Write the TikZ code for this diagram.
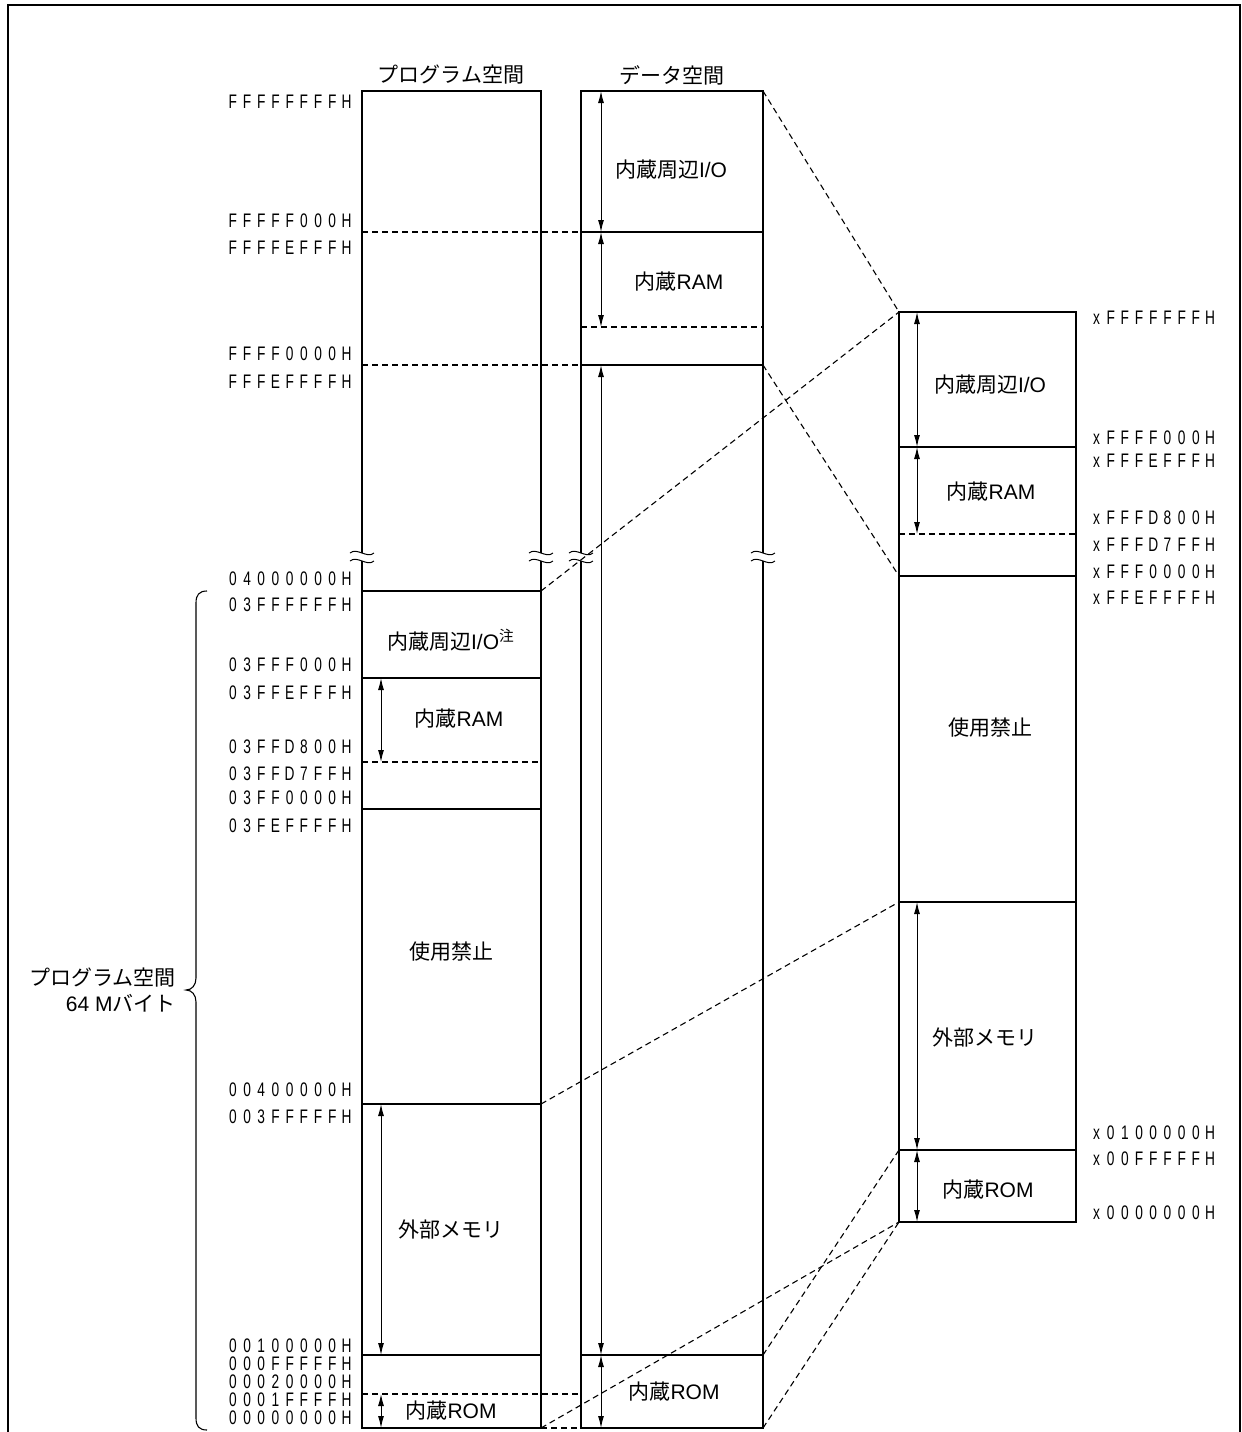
\documentclass[tikz,border=0pt]{standalone}
\usepackage{fontspec}
\setmainfont{Liberation Sans}
\newfontfamily\jpf{Noto Sans CJK JP}
\newfontfamily\addrf[FakeStretch=0.7]{Liberation Sans}
\usetikzlibrary{arrows.meta}
\newcommand\J[1]{{\jpf #1}}
\makeatletter
\newcommand\addrtxt[1]{\addr@loop#1\relax}
\def\addr@loop#1{\ifx#1\relax\else\makebox[7.1pt]{#1}\expandafter\addr@loop\fi}
\makeatother
\begin{document}
\begin{tikzpicture}[x=0.5pt,y=-0.5pt,
  colbox/.style={line width=1.4pt},
  thinl/.style={line width=0.55pt},
  dashl/.style={line width=0.55pt, dash pattern=on 3pt off 2pt},
  dimarrow/.style={line width=0.5pt, {Latex[length=6pt,width=3pt]}-{Latex[length=6pt,width=3pt]}},
  lbl/.style={font=\fontsize{10.5}{12}\selectfont, inner sep=0pt},
  addrL/.style={anchor=east, inner sep=0pt, font=\addrf\fontsize{9.8}{10}\selectfont},
  addrR/.style={anchor=west, inner sep=0pt, font=\addrf\fontsize{9.8}{10}\selectfont},
  brkmark/.pic={
    \fill[white] (-3,-4) rectangle (3,4);
    \draw[line width=0.5pt] (-12,-4) .. controls (-5,-10) and (5,2) .. (12,-4);
    \draw[line width=0.5pt] (-12,4) .. controls (-5,-2) and (5,10) .. (12,4);
  }
]
\useasboundingbox (0,0) rectangle (1242,1432);
% outer frame
\draw[line width=1pt] (8,1432) -- (8,5) -- (1240,5) -- (1240,1432);

% ---------- key coordinates ----------
\coordinate (Ptl) at (362,91);   \coordinate (Ptr) at (541,91);
\coordinate (Pbl) at (362,1428); \coordinate (Pbr) at (541,1428);
\coordinate (Dtl) at (581,91);   \coordinate (Dtr) at (763,91);
\coordinate (Dbl) at (581,1428); \coordinate (Dbr) at (763,1428);
\coordinate (Rtl) at (899,312);  \coordinate (Rtr) at (1076,312);
\coordinate (Rbl) at (899,1222); \coordinate (Rbr) at (1076,1222);

\coordinate (P232) at (362,232); \coordinate (D232l) at (581,232); \coordinate (D232r) at (763,232);
\coordinate (P365) at (362,365); \coordinate (D365l) at (581,365); \coordinate (D365r) at (763,365);
\coordinate (D327l) at (581,327); \coordinate (D327r) at (763,327);
\coordinate (P591l) at (362,591); \coordinate (P591r) at (541,591);
\coordinate (P678l) at (362,678); \coordinate (P678r) at (541,678);
\coordinate (P762l) at (362,762); \coordinate (P762r) at (541,762);
\coordinate (P809l) at (362,809); \coordinate (P809r) at (541,809);
\coordinate (P1104l) at (362,1104); \coordinate (P1104r) at (541,1104);
\coordinate (P1355l) at (362,1355); \coordinate (P1355r) at (541,1355);
\coordinate (P1394l) at (362,1394); \coordinate (D1394l) at (581,1394);
\coordinate (D1355l) at (581,1355); \coordinate (D1355r) at (763,1355);
\coordinate (R447l) at (899,447); \coordinate (R447r) at (1076,447);
\coordinate (R534l) at (899,534); \coordinate (R534r) at (1076,534);
\coordinate (R576l) at (899,576); \coordinate (R576r) at (1076,576);
\coordinate (R902l) at (899,902); \coordinate (R902r) at (1076,902);
\coordinate (R1150l) at (899,1150); \coordinate (R1150r) at (1076,1150);

% ---------- columns ----------
\draw[colbox] (Ptl) rectangle (Pbr);
\draw[colbox] (Dtl) rectangle (Dbr);
\draw[colbox] (Rtl) rectangle (Rbr);

% headers
\node[lbl, font=\jpf\fontsize{10.5}{12}\selectfont] (hP) at (451,75) {プログラム空間};
\node[lbl, font=\jpf\fontsize{10.5}{12}\selectfont] (hD) at (672,75) {データ空間};

% program column internal lines
\draw[dashl] (P232) -- (D232l);
\draw[dashl] (P365) -- (D365l);
\draw[thinl] (P591l) -- (P591r);
\draw[thinl] (P678l) -- (P678r);
\draw[dashl] (P762l) -- (P762r);
\draw[thinl] (P809l) -- (P809r);
\draw[thinl] (P1104l) -- (P1104r);
\draw[thinl] (P1355l) -- (P1355r);
\draw[dashl] (P1394l) -- (D1394l);
\draw[dashl] (Pbr) -- (Dbl);

% data column internal lines
\draw[thinl] (D232l) -- (D232r);
\draw[dashl] (D327l) -- (D327r);
\draw[thinl] (D365l) -- (D365r);
\draw[thinl] (D1355l) -- (D1355r);

% right column internal lines
\draw[thinl] (R447l) -- (R447r);
\draw[dashl] (R534l) -- (R534r);
\draw[thinl] (R576l) -- (R576r);
\draw[thinl] (R902l) -- (R902r);
\draw[thinl] (R1150l) -- (R1150r);

% break marks
\pic (b1) at (362,557) {brkmark};
\pic (b2) at (541,557) {brkmark};
\pic (b3) at (581,557) {brkmark};
\pic (b4) at (763,557) {brkmark};

% dimension arrows
\draw[dimarrow] (381,678) -- (381,762);
\draw[dimarrow] (381,1104) -- (381,1355);
\draw[dimarrow] (381,1394) -- (381,1428);
\draw[dimarrow] (601,91) -- (601,232);
\draw[dimarrow] (601,232) -- (601,327);
\draw[dimarrow] (601,365) -- (601,1355);
\draw[dimarrow] (601,1355) -- (601,1428);
\draw[dimarrow] (917,312) -- (917,447);
\draw[dimarrow] (917,447) -- (917,534);
\draw[dimarrow] (917,902) -- (917,1150);
\draw[dimarrow] (917,1150) -- (917,1222);

% program labels
\node[lbl] (pIO) at (451,640) {\J{内蔵周辺}I/O\textsuperscript{\J{注}}};
\node[lbl] (pRAM) at (459,719) {\J{内蔵}RAM};
\node[lbl] (pNG) at (451,952) {\J{使用禁止}};
\node[lbl] (pEXT) at (451,1230) {\J{外部メモリ}};
\node[lbl] (pROM) at (451,1411) {\J{内蔵}ROM};
% data labels
\node[lbl] (dIO) at (671,170) {\J{内蔵周辺}I/O};
\node[lbl] (dRAM) at (679,282) {\J{内蔵}RAM};
\node[lbl] (dROM) at (674,1392) {\J{内蔵}ROM};
% right labels
\node[lbl] (rIO) at (990,385) {\J{内蔵周辺}I/O};
\node[lbl] (rRAM) at (991,492) {\J{内蔵}RAM};
\node[lbl] (rNG) at (990,728) {\J{使用禁止}};
\node[lbl] (rEXT) at (985,1038) {\J{外部メモリ}};
\node[lbl] (rROM) at (988,1190) {\J{内蔵}ROM};

% left addresses
\node[addrL] (a1) at (354,102) {\addrtxt{FFFFFFFFH}};
\node[addrL] (a2) at (354,221) {\addrtxt{FFFFF000H}};
\node[addrL] (a3) at (354,248) {\addrtxt{FFFFEFFFH}};
\node[addrL] (a4) at (354,354) {\addrtxt{FFFF0000H}};
\node[addrL] (a5) at (354,382) {\addrtxt{FFFEFFFFH}};
\node[addrL] (a6) at (354,579) {\addrtxt{04000000H}};
\node[addrL] (a7) at (354,605) {\addrtxt{03FFFFFFH}};
\node[addrL] (a8) at (354,665) {\addrtxt{03FFF000H}};
\node[addrL] (a9) at (354,693) {\addrtxt{03FFEFFFH}};
\node[addrL] (a10) at (354,747) {\addrtxt{03FFD800H}};
\node[addrL] (a11) at (354,774) {\addrtxt{03FFD7FFH}};
\node[addrL] (a12) at (354,798) {\addrtxt{03FF0000H}};
\node[addrL] (a13) at (354,826) {\addrtxt{03FEFFFFH}};
\node[addrL] (a14) at (354,1090) {\addrtxt{00400000H}};
\node[addrL] (a15) at (354,1117) {\addrtxt{003FFFFFH}};
\node[addrL] (a16) at (354,1346) {\addrtxt{00100000H}};
\node[addrL] (a17) at (354,1364) {\addrtxt{000FFFFFH}};
\node[addrL] (a18) at (354,1382) {\addrtxt{00020000H}};
\node[addrL] (a19) at (354,1400) {\addrtxt{0001FFFFH}};
\node[addrL] (a20) at (354,1418) {\addrtxt{00000000H}};

% right addresses
\node[addrR] (r1) at (1089,318) {\addrtxt{xFFFFFFFH}};
\node[addrR] (r2) at (1089,438) {\addrtxt{xFFFF000H}};
\node[addrR] (r3) at (1089,461) {\addrtxt{xFFFEFFFH}};
\node[addrR] (r4) at (1089,518) {\addrtxt{xFFFD800H}};
\node[addrR] (r5) at (1089,545) {\addrtxt{xFFFD7FFH}};
\node[addrR] (r6) at (1089,572) {\addrtxt{xFFF0000H}};
\node[addrR] (r7) at (1089,598) {\addrtxt{xFFEFFFFH}};
\node[addrR] (r8) at (1089,1133) {\addrtxt{x0100000H}};
\node[addrR] (r9) at (1089,1159) {\addrtxt{x00FFFFFH}};
\node[addrR] (r10) at (1089,1213) {\addrtxt{x0000000H}};

% brace
\draw[thinl] (207,591) .. controls (199,591) and (196,595) .. (196,603) -- (196,978)
  .. controls (196,985) and (192,990) .. (186,990)
  .. controls (192,990) and (196,995) .. (196,1002) -- (196,1418)
  .. controls (196,1426) and (199,1430) .. (207,1430);
\node[lbl, anchor=east, font=\jpf\fontsize{10.5}{12}\selectfont] (bl1) at (176,978) {プログラム空間};
\node[lbl, anchor=east] (bl2) at (176,1003) {64 M\J{バイト}};

% mapping lines
\draw[dashl] (Dtr) -- (Rtl);
\draw[dashl] (D365r) -- (R576l);
\draw[dashl] (P591r) -- (Rtl);
\draw[dashl] (P1104r) -- (R902l);
\draw[dashl] (Pbr) -- (Rbl);
\draw[dashl] (D1355r) -- (R1150l);
\draw[dashl] (Dbr) -- (Rbl);
\end{tikzpicture}
\end{document}
